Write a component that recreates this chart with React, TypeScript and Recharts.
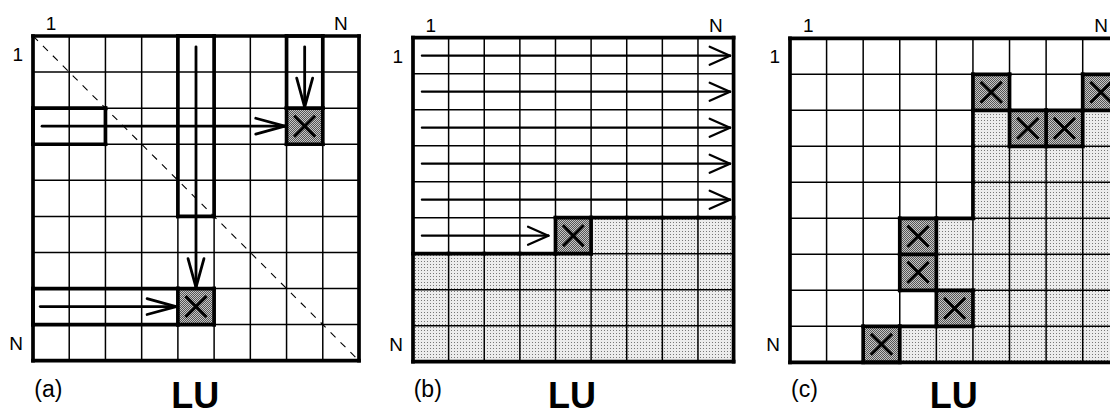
import { ComposedChart, ReferenceArea, ReferenceLine, Scatter, XAxis, YAxis } from "recharts";

type Cell = [number, number]; // [row, col]
type Span = { row: number; from: number; to: number }; // shaded columns from..to in one row
type Strip = { row: number; col: number; rows: number; cols: number };
type Arrow = { from: [number, number]; to: [number, number] }; // [x, y] in cell units
type Pt = { x: number; y: number };

const SIZE = 9;
const EDGE_TICKS = [0.5, 8.5];
const EDGE_LABELS = ["1", "N"];
const CAPTION = "LU";

// (a) pivot fed by a row strip and a column strip
const pivotsA: Cell[] = [
  [2, 7],
  [7, 4],
];
const stripsA: Strip[] = [
  { row: 2, col: 0, rows: 1, cols: 2 },
  { row: 0, col: 4, rows: 5, cols: 1 },
  { row: 0, col: 7, rows: 2, cols: 1 },
  { row: 7, col: 0, rows: 1, cols: 4 },
];
const arrowsA: Arrow[] = [
  { from: [0.25, 2.5], to: [6.95, 2.5] },
  { from: [7.5, 0.3], to: [7.5, 1.97] },
  { from: [4.5, 0.3], to: [4.5, 6.97] },
  { from: [0.2, 7.5], to: [3.95, 7.5] },
];

// (b) row sweep, everything after the current pivot still pending
const pivotsB: Cell[] = [[5, 4]];
const shadedB: Span[] = [
  { row: 5, from: 5, to: 8 },
  { row: 6, from: 0, to: 8 },
  { row: 7, from: 0, to: 8 },
  { row: 8, from: 0, to: 8 },
];
const arrowsB: Arrow[] = [
  { from: [0.25, 0.5], to: [8.9, 0.5] },
  { from: [0.25, 1.5], to: [8.9, 1.5] },
  { from: [0.25, 2.5], to: [8.9, 2.5] },
  { from: [0.25, 3.5], to: [8.9, 3.5] },
  { from: [0.25, 4.5], to: [8.9, 4.5] },
  { from: [0.25, 5.5], to: [3.8, 5.5] },
];

// (c) skyline profile with the active pivots
const pivotsC: Cell[] = [
  [1, 5],
  [1, 8],
  [2, 6],
  [2, 7],
  [5, 3],
  [6, 3],
  [7, 4],
  [8, 2],
];
const shadedC: Span[] = [
  { row: 2, from: 5, to: 5 },
  { row: 2, from: 8, to: 8 },
  { row: 3, from: 5, to: 8 },
  { row: 4, from: 5, to: 8 },
  { row: 5, from: 4, to: 8 },
  { row: 6, from: 4, to: 8 },
  { row: 7, from: 5, to: 8 },
  { row: 8, from: 3, to: 8 },
];

type Panel = {
  tag: string;
  pivots: Cell[];
  shaded: Span[];
  strips: Strip[];
  arrows: Arrow[];
  diagonal: boolean;
  head: { len: number; half: number; width: number };
  box: { left: number; top: number; width: number; height: number };
};

const panels: Panel[] = [
  {
    tag: "(a)",
    pivots: pivotsA,
    shaded: [],
    strips: stripsA,
    arrows: arrowsA,
    diagonal: true,
    head: { len: 0.8, half: 0.22, width: 2.8 },
    box: { left: 33.3, top: 36, width: 326, height: 324.7 },
  },
  {
    tag: "(b)",
    pivots: pivotsB,
    shaded: shadedB,
    strips: [],
    arrows: arrowsB,
    diagonal: false,
    head: { len: 0.57, half: 0.25, width: 2.3 },
    box: { left: 412.7, top: 37.7, width: 320.6, height: 324 },
  },
  {
    tag: "(c)",
    pivots: pivotsC,
    shaded: shadedC,
    strips: [],
    arrows: [],
    diagonal: false,
    head: { len: 0.57, half: 0.25, width: 2.3 },
    box: { left: 790, top: 38.3, width: 329.3, height: 324 },
  },
];

const W = 1110;
const H = 415;
const AXIS_W = 40;
const PAD = 6;
const FONT = "'Liberation Sans', Arial, Helvetica, sans-serif";
const LABEL_SIZE = 19;
const X_INSET = 0.21; // share of a cell left blank around the cross

const seg = (x1: number, y1: number, x2: number, y2: number): [Pt, Pt] => [
  { x: x1, y: y1 },
  { x: x2, y: y2 },
];

const edgeLabel = (v: number) => EDGE_LABELS[EDGE_TICKS.indexOf(v)] ?? "";

type TickProps = { x?: number; y?: number; payload?: { value: number } };

const TopTick = ({ x = 0, y = 0, payload }: TickProps) => (
  <text x={x} y={y} textAnchor="middle" fontSize={LABEL_SIZE} fontFamily={FONT} fill="#000">
    {edgeLabel(payload?.value ?? 0)}
  </text>
);

const SideTick = ({ x = 0, y = 0, payload }: TickProps) => (
  <text x={x} y={y} dy="0.36em" textAnchor="end" fontSize={LABEL_SIZE} fontFamily={FONT} fill="#000">
    {edgeLabel(payload?.value ?? 0)}
  </text>
);

// heavy outlines: frame, strips, pivots and every filled/blank boundary
function thickEdges(p: Panel): [Pt, Pt][] {
  const filled = new Set<string>();
  p.shaded.forEach((s) => {
    for (let c = s.from; c <= s.to; c++) filled.add(`${s.row},${c}`);
  });
  p.pivots.forEach(([r, c]) => filled.add(`${r},${c}`));
  const isFilled = (r: number, c: number) => filled.has(`${r},${c}`);

  const out = new Map<string, [Pt, Pt]>();
  const add = (x1: number, y1: number, x2: number, y2: number) =>
    out.set(`${x1},${y1},${x2},${y2}`, seg(x1, y1, x2, y2));

  add(0, 0, SIZE, 0);
  add(0, SIZE, SIZE, SIZE);
  add(0, 0, 0, SIZE);
  add(SIZE, 0, SIZE, SIZE);

  p.strips.forEach(({ row, col, rows, cols }) => {
    add(col, row, col + cols, row);
    add(col, row + rows, col + cols, row + rows);
    add(col, row, col, row + rows);
    add(col + cols, row, col + cols, row + rows);
  });

  p.pivots.forEach(([r, c]) => {
    add(c, r, c + 1, r);
    add(c, r + 1, c + 1, r + 1);
    add(c, r, c, r + 1);
    add(c + 1, r, c + 1, r + 1);
  });

  if (p.shaded.length) {
    for (let r = 0; r < SIZE; r++) {
      for (let c = 0; c < SIZE; c++) {
        if (c < SIZE - 1 && isFilled(r, c) !== isFilled(r, c + 1)) add(c + 1, r, c + 1, r + 1);
        if (r < SIZE - 1 && isFilled(r, c) !== isFilled(r + 1, c)) add(c, r + 1, c + 1, r + 1);
      }
    }
  }
  return [...out.values()];
}

function arrowSegments(a: Arrow, len: number, half: number): [Pt, Pt][] {
  const [x1, y1] = a.from;
  const [x2, y2] = a.to;
  const d = Math.hypot(x2 - x1, y2 - y1);
  const ux = (x2 - x1) / d;
  const uy = (y2 - y1) / d;
  const bx = x2 - ux * len;
  const by = y2 - uy * len;
  return [
    seg(x1, y1, x2, y2),
    seg(bx - uy * half, by + ux * half, x2, y2),
    seg(bx + uy * half, by - ux * half, x2, y2),
  ];
}

function LuPanel({ p }: { p: Panel }) {
  const { box } = p;
  const lines: number[] = Array.from({ length: SIZE + 1 }, (_, k) => k);
  const pivotPoints = p.pivots.map(([r, c]) => ({ x: c + 0.5, y: r + 0.5 }));
  const hx = (box.width / SIZE) * (0.5 - X_INSET);
  const hy = (box.height / SIZE) * (0.5 - X_INSET);

  const cross = (props: { cx?: number; cy?: number }) => {
    const cx = props.cx ?? 0;
    const cy = props.cy ?? 0;
    return (
      <g stroke="#000" strokeWidth={3}>
        <line x1={cx - hx} y1={cy - hy} x2={cx + hx} y2={cy + hy} />
        <line x1={cx + hx} y1={cy - hy} x2={cx - hx} y2={cy + hy} />
      </g>
    );
  };

  return (
    <div style={{ position: "absolute", left: box.left - AXIS_W, top: 0 }}>
      <ComposedChart
        width={AXIS_W + box.width + PAD}
        height={H}
        margin={{ top: 0, left: 0, right: PAD, bottom: H - box.top - box.height }}
      >
        <XAxis
          type="number"
          dataKey="x"
          orientation="top"
          domain={[0, SIZE]}
          allowDataOverflow
          height={box.top}
          ticks={EDGE_TICKS}
          interval={0}
          axisLine={false}
          tickLine={false}
          tickSize={0}
          tickMargin={6}
          tick={TopTick}
        />
        <YAxis
          type="number"
          dataKey="y"
          reversed
          domain={[0, SIZE]}
          allowDataOverflow
          width={AXIS_W}
          ticks={EDGE_TICKS}
          interval={0}
          axisLine={false}
          tickLine={false}
          tickSize={0}
          tickMargin={10}
          tick={SideTick}
        />

        {p.shaded.map((s) => (
          <ReferenceArea
            key={`s${s.row}-${s.from}`}
            x1={s.from}
            x2={s.to + 1}
            y1={s.row}
            y2={s.row + 1}
            fill="url(#stipple-light)"
            fillOpacity={1}
            stroke="none"
          />
        ))}
        {p.pivots.map(([r, c]) => (
          <ReferenceArea
            key={`p${r}-${c}`}
            x1={c}
            x2={c + 1}
            y1={r}
            y2={r + 1}
            fill="url(#stipple-dark)"
            fillOpacity={1}
            stroke="none"
          />
        ))}

        {lines.map((k) => (
          <ReferenceLine key={`gv${k}`} segment={seg(k, 0, k, SIZE)} stroke="#000" strokeWidth={1.5} ifOverflow="visible" />
        ))}
        {lines.map((k) => (
          <ReferenceLine key={`gh${k}`} segment={seg(0, k, SIZE, k)} stroke="#000" strokeWidth={1.5} ifOverflow="visible" />
        ))}

        {thickEdges(p).map((e, i) => (
          <ReferenceLine
            key={`t${i}`}
            segment={e}
            stroke="#000"
            strokeWidth={3.7}
            strokeLinecap="square"
            ifOverflow="visible"
          />
        ))}

        {p.diagonal && (
          <ReferenceLine
            segment={seg(0, 0, SIZE, SIZE)}
            stroke="#000"
            strokeWidth={1.1}
            strokeDasharray="7 7"
            ifOverflow="visible"
          />
        )}

        {p.arrows.flatMap((a, i) =>
          arrowSegments(a, p.head.len, p.head.half).map((s, j) => (
            <ReferenceLine
              key={`a${i}-${j}`}
              segment={s}
              stroke="#000"
              strokeWidth={p.head.width}
              strokeLinecap="round"
              ifOverflow="visible"
            />
          ))
        )}

        <Scatter data={pivotPoints} dataKey="y" shape={cross} isAnimationActive={false} />
      </ComposedChart>
    </div>
  );
}

export default function App() {
  return (
    <div
      style={{
        position: "fixed",
        left: 0,
        top: 0,
        width: W,
        height: H,
        overflow: "hidden",
        background: "#fff",
      }}
    >
      <svg width={0} height={0} style={{ position: "absolute" }}>
        <defs>
          <pattern id="stipple-light" width={3} height={3} patternUnits="userSpaceOnUse">
            <rect width={3} height={3} fill="#ececec" />
            <rect x={0} y={0} width={1} height={1} fill="#777" />
          </pattern>
          <pattern id="stipple-dark" width={2} height={2} patternUnits="userSpaceOnUse">
            <rect width={2} height={2} fill="#c6c6c6" />
            <rect x={0} y={0} width={1} height={1} fill="#555" />
            <rect x={1} y={1} width={1} height={1} fill="#555" />
          </pattern>
        </defs>
      </svg>

      {panels.map((p) => (
        <LuPanel key={p.tag} p={p} />
      ))}

      <svg width={W} height={H} style={{ position: "absolute", left: 0, top: 0, pointerEvents: "none" }}>
        {panels.map((p) => (
          <g key={p.tag} fontFamily={FONT} fill="#000">
            <text x={p.box.left + 1} y={397} fontSize={23}>
              {p.tag}
            </text>
            <text x={p.box.left + p.box.width / 2 - 1} y={408} fontSize={36} fontWeight="bold" textAnchor="middle">
              {CAPTION}
            </text>
          </g>
        ))}
      </svg>
    </div>
  );
}
